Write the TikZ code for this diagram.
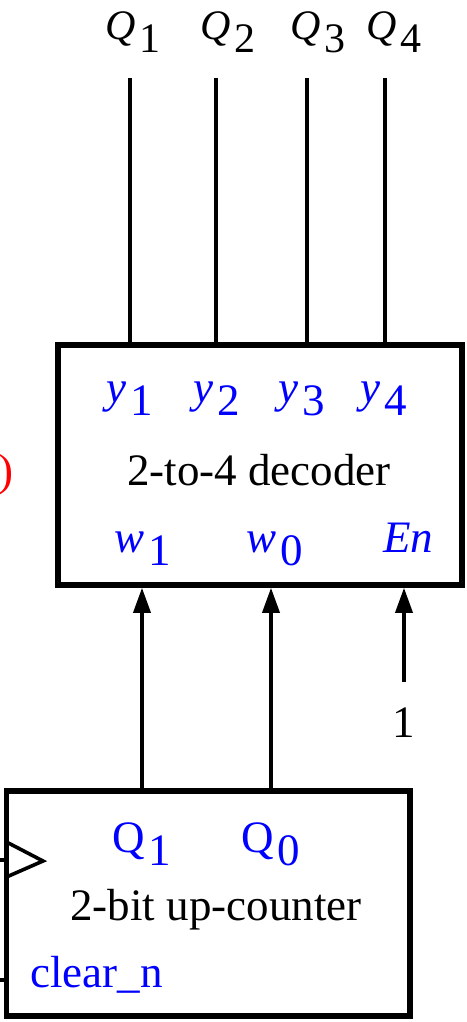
\documentclass[tikz,border=0pt]{standalone}
\usepackage{fontspec}
\setmainfont{Liberation Serif}
\usepackage{xcolor}
\usepackage{tikz}
\usetikzlibrary{positioning, arrows.meta, calc}
\newcommand{\sigfont}{\fontsize{22.5}{26}\selectfont}
\newcommand{\topfont}{\fontsize{21}{25}\selectfont}
\newcommand{\subsig}[2]{#1\kern0.08em\raisebox{-0.3em}{#2}}

\begin{document}
\begin{tikzpicture}[
  x=0.5pt, y=-0.5pt,
  blk/.style={rectangle, draw, line width=2.8pt, inner sep=0pt},
  wire/.style={line width=1.8pt},
  sig/.style={font=\sigfont, text=blue, anchor=base, inner sep=0pt},
  txt/.style={font=\sigfont, anchor=base, inner sep=0pt},
  >={Triangle[length=12.5pt, width=8.5pt]}
]
\useasboundingbox (0,0) rectangle (466,1022);
\node[blk, minimum width=202pt, minimum height=120pt] (dec) at (260,465) {};
\node[blk, minimum width=201.75pt, minimum height=112.5pt] (cnt) at (208.25,903.5) {};

\node[sig] (y1) at (130,402) {\subsig{\textit{y}}{1}};
\node[sig] (y2) at (217,402) {\subsig{\textit{y}}{2}};
\node[sig] (y3) at (302,402) {\subsig{\textit{y}}{3}};
\node[sig] (y4) at (384,402) {\subsig{\textit{y}}{4}};
\node[txt] (dname) at (259,485) {2-to-4 decoder};
\node[sig] (w1) at (143,552) {\subsig{\textit{w}}{1}};
\node[sig] (w0) at (275,552) {\subsig{\textit{w}}{0}};
\node[sig] (en) at (408,552) {\textit{En}};
\node[txt, text=red, anchor=base east] (paren) at (14,485) {)};

\node[txt, font=\topfont] (q1) at (133,40) {\subsig{\textit{Q}}{1}};
\node[txt, font=\topfont] (q2) at (228,40) {\subsig{\textit{Q}}{2}};
\node[txt, font=\topfont] (q3) at (318,40) {\subsig{\textit{Q}}{3}};
\node[txt, font=\topfont] (q4) at (394,40) {\subsig{\textit{Q}}{4}};
\coordinate (o1) at (130,78);
\coordinate (o2) at (216,78);
\coordinate (o3) at (307,78);
\coordinate (o4) at (385,78);
\foreach \i in {1,...,4} \draw[wire] (o\i) -- (o\i |- dec.north);

\node[sig] (c1) at (142,852) {\subsig{Q}{1}};
\node[sig] (c0) at (271,852) {\subsig{Q}{0}};
\node[txt] (cname) at (216,920) {2-bit up-counter};
\node[sig, anchor=base west] (clr) at (30,987) {clear\_n};

\draw[wire, ->] (c1 |- cnt.north) -- (c1 |- dec.south);
\draw[wire, ->] (c0 |- cnt.north) -- (c0 |- dec.south);
\coordinate (enin) at (404,682);
\draw[wire, ->] (enin) -- (enin |- dec.south);
\node[txt] (one) at (404,737) {1};

\coordinate (clkin) at (0,860);
\coordinate (clrin) at (0,980);
\draw[wire] (clkin) -- (clkin -| cnt.west);
\draw[wire] (clrin) -- (clrin -| cnt.west);
\draw[wire, line join=miter] (6.5,842) -- (43,861) -- (6.5,877);
\end{tikzpicture}
\end{document}
